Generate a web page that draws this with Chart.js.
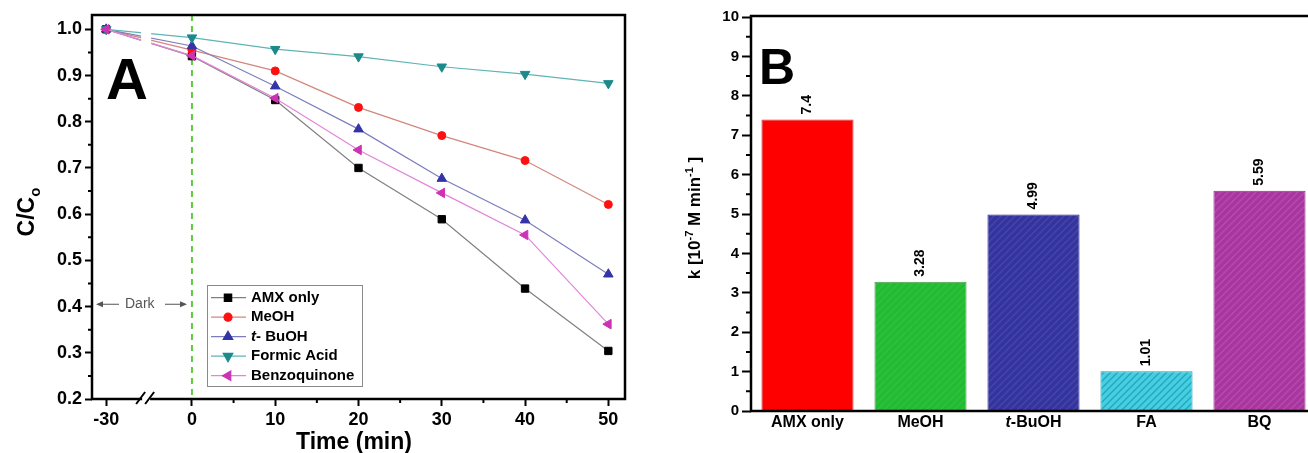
<!DOCTYPE html>
<html>
<head>
<meta charset="utf-8">
<script src="https://cdn.jsdelivr.net/npm/chart.js@4.4.0/dist/chart.umd.min.js"></script>
<style>
html, body { margin: 0; padding: 0; background: #fff; overflow: hidden; width: 1308px; height: 453px; }
#wrapA { position: absolute; left: 0; top: 0; width: 650px; height: 453px; }
#wrapB { position: absolute; left: 650px; top: 0; width: 666px; height: 453px; }
</style>
</head>
<body>
<div id="wrapA"><canvas id="chartA" width="650" height="453"></canvas></div>
<div id="wrapB"><canvas id="chartB" width="666" height="453"></canvas></div>
<script>
const FONT = "'Liberation Sans', Arial, Helvetica, sans-serif";

// ---- panel A : C/Co vs time ----
const times = [-30, 0, 10, 20, 30, 40, 50];
const amxOnly = [1.0, 0.942, 0.847, 0.700, 0.589, 0.439, 0.304];
const meoh = [1.0, 0.955, 0.910, 0.831, 0.770, 0.716, 0.621];
const tBuoh = [1.0, 0.964, 0.877, 0.784, 0.677, 0.587, 0.470];
const formicAcid = [1.0, 0.982, 0.957, 0.941, 0.919, 0.903, 0.883];
const benzoquinone = [1.0, 0.943, 0.851, 0.739, 0.646, 0.555, 0.362];
const xTickLabelsA = ['-30', '0', '10', '20', '30', '40', '50'];
const yTicksA = [0.2, 0.3, 0.4, 0.5, 0.6, 0.7, 0.8, 0.9, 1.0];
const xMinorA = [5, 15, 25, 35, 45];

// ---- panel B : rate constants ----
const scavengers = ['AMX only', 'MeOH', 't-BuOH', 'FA', 'BQ'];
const kValues = [7.4, 3.28, 4.99, 1.01, 5.59];

// the dark period (-30..0) is squeezed in front of the axis break
const BREAK_AT = -5.5;
function axisPos(t) { return t < 0 ? t / 30 * 10.3 : t; }

Chart.defaults.font.family = FONT;
Chart.defaults.color = '#000';

const seriesA = [
  { label: 'AMX only', data: amxOnly, line: '#808080', mark: '#000000', style: 'rect', rot: 0, r: 5.2 },
  { label: 'MeOH', data: meoh, line: '#d3867c', mark: '#ff1010', style: 'circle', rot: 0, r: 4 },
  { label: 't- BuOH', data: tBuoh, line: '#7d7dbd', mark: '#3434a8', style: 'triangle', rot: 0, r: 5.5 },
  { label: 'Formic Acid', data: formicAcid, line: '#5fb4b4', mark: '#1b8a8a', style: 'triangle', rot: 180, r: 5.5 },
  { label: 'Benzoquinone', data: benzoquinone, line: '#e384d9', mark: '#cc33b4', style: 'triangle', rot: 270, r: 5.5 }
];

function bold(size) { return 'bold ' + size + 'px ' + FONT; }

// draws "t-..." with an italic t
function italicT(ctx, text, x, y, size) {
  let tx = x;
  if (text.startsWith('t-')) {
    ctx.font = 'italic bold ' + size + 'px ' + FONT;
    ctx.fillText('t', tx, y);
    tx += ctx.measureText('t').width;
    text = text.slice(1);
  }
  ctx.font = bold(size);
  ctx.fillText(text, tx, y);
}

const panelA = {
  id: 'panelA',
  beforeDatasetsDraw(chart) {
    const { ctx, chartArea } = chart;
    const x0 = chart.scales.x.getPixelForValue(0);
    ctx.save();
    ctx.strokeStyle = '#5ccc3c';
    ctx.lineWidth = 2;
    ctx.setLineDash([6, 5]);
    ctx.beginPath();
    ctx.moveTo(x0, chartArea.top);
    ctx.lineTo(x0, chartArea.bottom);
    ctx.stroke();
    ctx.restore();
  },
  afterDatasetsDraw(chart) {
    const { ctx, chartArea } = chart;
    const xb = chart.scales.x.getPixelForValue(BREAK_AT);
    ctx.save();
    ctx.fillStyle = '#fff';
    ctx.fillRect(xb - 5, chartArea.top + 2, 10, chartArea.bottom - chartArea.top - 4);
    ctx.restore();
  },
  afterDraw(chart) {
    const { ctx, chartArea: ca } = chart;
    const xs = chart.scales.x, ys = chart.scales.y;
    ctx.save();
    // frame
    ctx.strokeStyle = '#000';
    ctx.lineWidth = 2.5;
    ctx.strokeRect(ca.left, ca.top, ca.right - ca.left, ca.bottom - ca.top);
    // minor ticks
    ctx.lineWidth = 2;
    ctx.beginPath();
    for (let v = 0.25; v < 1.0; v += 0.1) {
      const y = ys.getPixelForValue(v);
      ctx.moveTo(ca.left, y); ctx.lineTo(ca.left - 4, y);
    }
    xMinorA.forEach(v => {
      const x = xs.getPixelForValue(v);
      ctx.moveTo(x, ca.bottom); ctx.lineTo(x, ca.bottom + 4);
    });
    ctx.stroke();
    // axis break
    const xb = xs.getPixelForValue(BREAK_AT);
    ctx.fillStyle = '#fff';
    ctx.fillRect(xb - 4, ca.bottom - 3, 8, 6);
    ctx.lineWidth = 2;
    ctx.beginPath();
    ctx.moveTo(xb - 10, ca.bottom + 5); ctx.lineTo(xb - 1, ca.bottom - 7);
    ctx.moveTo(xb - 1, ca.bottom + 5); ctx.lineTo(xb + 8, ca.bottom - 7);
    ctx.stroke();

    // big panel letter
    ctx.fillStyle = '#000';
    ctx.font = bold(58);
    ctx.textAlign = 'left';
    ctx.textBaseline = 'alphabetic';
    ctx.fillText('A', ca.left + 14, 99);

    // Dark annotation
    const yd = ys.getPixelForValue(0.405);
    ctx.strokeStyle = '#555';
    ctx.fillStyle = '#555';
    ctx.lineWidth = 1.2;
    ctx.beginPath();
    ctx.moveTo(ca.left + 6, yd); ctx.lineTo(ca.left + 27, yd);
    ctx.moveTo(ca.left + 73, yd); ctx.lineTo(ca.left + 93, yd);
    ctx.stroke();
    ctx.beginPath();
    ctx.moveTo(ca.left + 4, yd); ctx.lineTo(ca.left + 11, yd - 3); ctx.lineTo(ca.left + 11, yd + 3); ctx.closePath();
    ctx.moveTo(ca.left + 95, yd); ctx.lineTo(ca.left + 88, yd - 3); ctx.lineTo(ca.left + 88, yd + 3); ctx.closePath();
    ctx.fill();
    ctx.font = '14px ' + FONT;
    ctx.textBaseline = 'middle';
    ctx.fillText('Dark', ca.left + 33, yd);

    // legend
    const lx = 207, ly = 285, lw = 155, lh = 101;
    ctx.strokeStyle = '#8a8a8a';
    ctx.lineWidth = 1;
    ctx.strokeRect(lx + 0.5, ly + 0.5, lw, lh);
    seriesA.forEach((s, i) => {
      const y = ly + 12.7 + i * 19.5;
      ctx.strokeStyle = s.line;
      ctx.lineWidth = 1.2;
      ctx.beginPath();
      ctx.moveTo(lx + 4, y); ctx.lineTo(lx + 39, y);
      ctx.stroke();
      ctx.fillStyle = s.mark;
      ctx.strokeStyle = s.mark;
      Chart.helpers.drawPoint(ctx, { pointStyle: s.style, rotation: s.rot, radius: s.r, borderWidth: 1 }, lx + 21, y);
      ctx.fillStyle = '#000';
      ctx.textBaseline = 'middle';
      italicT(ctx, s.label, lx + 44, y, 15);
    });

    // axis titles
    ctx.fillStyle = '#000';
    ctx.textBaseline = 'alphabetic';
    ctx.textAlign = 'center';
    ctx.font = bold(23);
    ctx.fillText('Time (min)', 354, 449);

    ctx.save();
    ctx.translate(34, 212);
    ctx.rotate(-Math.PI / 2);
    ctx.textAlign = 'left';
    ctx.font = bold(23);
    const w1 = ctx.measureText('C/C').width;
    ctx.font = bold(15);
    const w2 = ctx.measureText('o').width;
    const start = -(w1 + w2) / 2;
    ctx.font = bold(23);
    ctx.fillText('C/C', start, 0);
    ctx.font = bold(15);
    ctx.fillText('o', start + w1, 6);
    ctx.restore();
    ctx.restore();
  }
};

new Chart(document.getElementById('chartA'), {
  type: 'line',
  data: {
    datasets: seriesA.map((s, i) => ({
      label: s.label,
      data: times.map((t, j) => ({ x: axisPos(t), y: s.data[j] })),
      order: -i,
      borderColor: s.line,
      borderWidth: 1.2,
      pointStyle: s.style,
      pointRotation: s.rot,
      pointRadius: s.r,
      pointBackgroundColor: s.mark,
      pointBorderColor: s.mark,
      pointBorderWidth: 1,
      tension: 0,
      fill: false
    }))
  },
  options: {
    responsive: false,
    animation: false,
    layout: { padding: { top: 15, right: 25, left: 0, bottom: 0 } },
    plugins: { legend: { display: false }, tooltip: { enabled: false } },
    scales: {
      x: {
        type: 'linear',
        min: -12,
        max: 52,
        afterBuildTicks: scale => { scale.ticks = times.map(t => ({ value: axisPos(t) })); },
        afterFit: scale => { scale.height = 54; },
        ticks: {
          callback: (v, i) => xTickLabelsA[i],
          font: { size: 18, weight: 'bold' },
          color: '#000',
          padding: 3,
          maxRotation: 0,
          autoSkip: false
        },
        grid: { drawOnChartArea: false, tickLength: 7, tickWidth: 2, tickColor: '#000' },
        border: { display: false }
      },
      y: {
        type: 'linear',
        min: 0.2,
        max: 1.031,
        afterBuildTicks: scale => { scale.ticks = yTicksA.map(v => ({ value: v })); },
        afterFit: scale => { scale.width = 92; },
        ticks: {
          callback: v => v.toFixed(1),
          font: { size: 18, weight: 'bold' },
          color: '#000',
          padding: 3
        },
        grid: { drawOnChartArea: false, tickLength: 7, tickWidth: 2, tickColor: '#000' },
        border: { display: false }
      }
    }
  },
  plugins: [panelA]
});

// ---- panel B ----
function hatch(base, stripe) {
  const c = document.createElement('canvas');
  c.width = 7; c.height = 7;
  const g = c.getContext('2d');
  g.fillStyle = base;
  g.fillRect(0, 0, 7, 7);
  g.strokeStyle = stripe;
  g.lineWidth = 1.4;
  g.beginPath();
  g.moveTo(-1, 8); g.lineTo(8, -1);
  g.moveTo(-1, 1); g.lineTo(1, -1);
  g.moveTo(6, 8); g.lineTo(8, 6);
  g.stroke();
  return g.createPattern(c, 'repeat');
}

const barFills = [
  '#ff0000',
  hatch('#22bb33', '#2fc23f'),
  hatch('#34349c', '#4646b0'),
  hatch('#45cfe0', '#25a6c0'),
  hatch('#a8369e', '#b64cae')
];
const barEdges = ['#cc3333', '#4a9a50', '#26268a', '#2a98b0', '#8c2c88'];

const panelB = {
  id: 'panelB',
  afterDraw(chart) {
    const { ctx, chartArea: ca } = chart;
    const ys = chart.scales.y, xs = chart.scales.x;
    ctx.save();
    ctx.strokeStyle = '#000';
    ctx.lineWidth = 2.5;
    ctx.strokeRect(ca.left, ca.top - 1, ca.right - ca.left + 10, ca.bottom - ca.top + 1);
    ctx.lineWidth = 2;
    ctx.beginPath();
    for (let v = 0.5; v < 10; v += 1) {
      const y = ys.getPixelForValue(v);
      ctx.moveTo(ca.left, y); ctx.lineTo(ca.left - 5, y);
    }
    ctx.stroke();

    // category labels (t-BuOH needs an italic t)
    ctx.fillStyle = '#000';
    ctx.textAlign = 'left';
    ctx.textBaseline = 'middle';
    scavengers.forEach((name, i) => {
      ctx.font = bold(16);
      const w = ctx.measureText(name).width;
      italicT(ctx, name, xs.getPixelForValue(i) - w / 2, ca.bottom + 12, 16);
    });

    // value labels, rotated
    ctx.font = bold(14);
    const meta = chart.getDatasetMeta(0);
    meta.data.forEach((bar, i) => {
      ctx.save();
      ctx.translate(bar.x, bar.y - 5);
      ctx.rotate(-Math.PI / 2);
      ctx.textAlign = 'left';
      ctx.textBaseline = 'middle';
      ctx.fillText(String(kValues[i]), 0, 0);
      ctx.restore();
    });

    ctx.font = bold(50);
    ctx.textAlign = 'left';
    ctx.textBaseline = 'alphabetic';
    ctx.fillText('B', ca.left + 8, 84);

    // y title with superscripts
    const parts = [
      ['k [10', 17, 0], ['-7', 11, -7], [' M min', 17, 0], ['-1', 11, -7], [' ]', 17, 0]
    ];
    let total = 0;
    parts.forEach(p => { ctx.font = bold(p[1]); total += ctx.measureText(p[0]).width; });
    ctx.save();
    ctx.translate(50, 218);
    ctx.rotate(-Math.PI / 2);
    let x = -total / 2;
    parts.forEach(p => {
      ctx.font = bold(p[1]);
      ctx.fillText(p[0], x, p[2]);
      x += ctx.measureText(p[0]).width;
    });
    ctx.restore();
    ctx.restore();
  }
};

new Chart(document.getElementById('chartB'), {
  type: 'bar',
  data: {
    labels: scavengers,
    datasets: [{
      data: kValues,
      backgroundColor: barFills,
      borderColor: barEdges,
      borderWidth: 1,
      categoryPercentage: 1,
      barPercentage: 0.815
    }]
  },
  options: {
    responsive: false,
    animation: false,
    layout: { padding: { top: 17, right: 0, left: 0, bottom: 0 } },
    plugins: { legend: { display: false }, tooltip: { enabled: false } },
    scales: {
      x: {
        afterFit: scale => { scale.height = 42; },
        ticks: { display: false },
        grid: { display: false, drawTicks: false },
        border: { display: false }
      },
      y: {
        min: 0,
        max: 10,
        afterFit: scale => { scale.width = 101; },
        ticks: { stepSize: 1, font: { size: 15, weight: 'bold' }, color: '#000', padding: 3 },
        grid: { drawOnChartArea: false, tickLength: 9, tickWidth: 2, tickColor: '#000' },
        border: { display: false }
      }
    }
  },
  plugins: [panelB]
});
</script>
</body>
</html>
